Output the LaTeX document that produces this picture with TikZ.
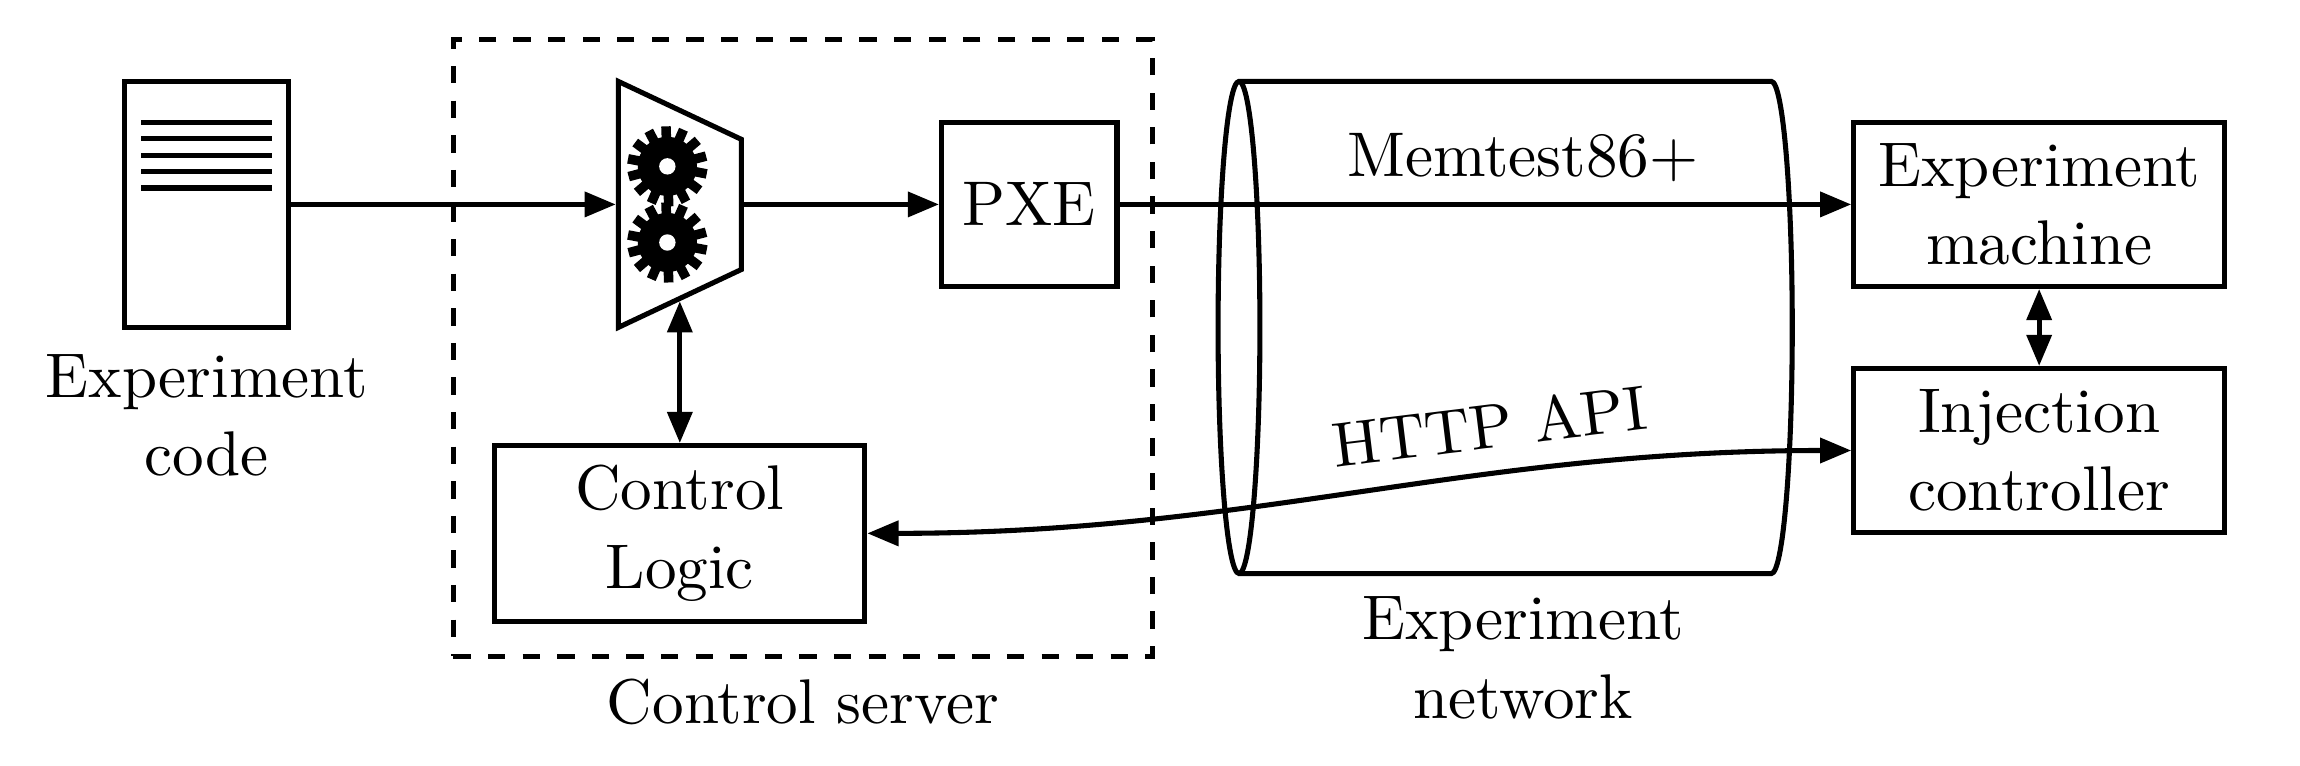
\documentclass[tikz,border=0pt,11pt]{standalone}
\usepackage{tikz}
\usetikzlibrary{shapes.geometric,arrows.meta}
\tikzstyle{block} = [rectangle, draw, align=center, inner sep=0pt, minimum height=1cm]
\tikzstyle{funnel} = [trapezium, draw, trapezium stretches=true, shape border rotate=270, trapezium angle=66, minimum width=1.5cm, minimum height=.75cm, inner sep=2pt]
\tikzstyle{network} = [cylinder, draw, shape border rotate=180, shape aspect=.255, minimum height=3.5cm, minimum width=3cm, inner sep=.5cm]
\tikzstyle{caption} = [align=center]
\tikzset{gear/.pic={
    \foreach \a in {0,...,13}
        \draw[line width=.058cm] (0,0) -- (92+\a*25.714:.244);
    \fill (0,0) circle (.18);
    \fill[white] (0,0) circle (.05);
}}

\begin{document}
\begin{tikzpicture}[auto, line width=.88pt, >={Triangle[length=.19cm,width=.15cm]}]
    \useasboundingbox (0,0) rectangle (14.02,4.665);

    % Experiment code
    \node[block, minimum width=1cm, minimum height=1.5cm] (code) at (1.26,3.419) {};
    \foreach \y in {.1,.2,.3,.4,.5}
        \draw ([xshift=-.4cm,yshift=\y cm]code.center) -- ([xshift=.4cm,yshift=\y cm]code.center);
    \node[caption, below of=code, node distance=1.287cm] (codetext) {Experiment\\code};

    % Control server
    \node[funnel, right of=code, node distance=2.884cm] (mux) {};
    \path (mux) ++(-.076,.232) pic {gear};
    \path (mux) ++(-.076,-.232) pic {gear};
    \node[block, right of=mux, node distance=2.13cm, minimum width=1.07cm] (pxe) {PXE};
    \node[block, below of=mux, node distance=2.005cm, minimum width=2.255cm, minimum height=1.07cm] (logic) {Control\\Logic};
    \node[rectangle, draw, dashed, right of=mux, node distance=.75cm, yshift=-.875cm, minimum width=4.26cm, minimum height=3.76cm] (server) {};
    \node[caption, below of=server, node distance=2.158cm] (servertext) {Control server};

    % Experiment network
    \node[network, right of=pxe, node distance=3.02cm, yshift=-.75cm] (net) {};
    \node[caption, below of=net, node distance=2.015cm, xshift=-.01cm] (nettext) {Experiment\\network};
    \node[caption, above of=net, node distance=1.037cm, xshift=-.01cm] (memtest) {Memtest86+};

    % Machines
    \node[block, right of=pxe, node distance=6.156cm, minimum width=2.26cm] (machine) {Experiment\\machine};
    \node[block, below of=machine, node distance=1.5cm, minimum width=2.26cm] (inject) {Injection\\controller};

    % Connections
    \draw[->] (code) -- (mux);
    \draw[->] (mux) -- (pxe);
    \draw[->] (pxe) -- (machine);
    \draw[<->] (mux) -- (logic);
    \draw[<->] (machine) -- (inject);
    \draw[<->] (logic) to[out=0, in=180] node[sloped, above=.4pt, pos=.65] {HTTP API} (inject);
\end{tikzpicture}
\end{document}
